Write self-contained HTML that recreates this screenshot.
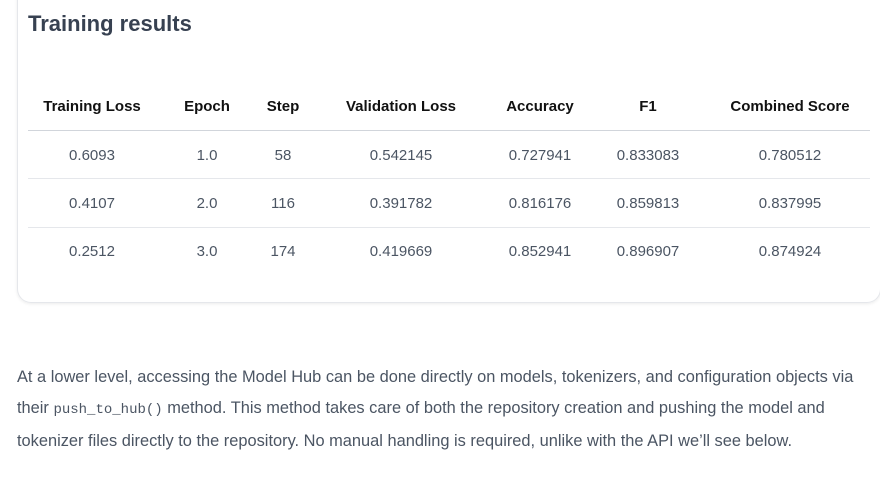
<!DOCTYPE html>
<html><head><meta charset="utf-8"><style>
body{margin:0;width:880px;height:479px;background:#fff;font-family:"Liberation Sans",sans-serif;position:relative;overflow:hidden}
.card{position:absolute;left:17px;top:-20px;width:862px;height:322px;border:1px solid #e5e7eb;border-top:none;border-radius:0 0 14px 14px;box-shadow:0 1px 3px rgba(0,0,0,0.08)}
h2{position:absolute;left:28px;top:11px;margin:0;font-size:22px;font-weight:600;color:#374151}
.t{position:absolute;transform:translateX(-50%);white-space:nowrap;font-size:15px}
.h{font-weight:bold;color:#111;top:98px}
.d{color:#4b5563}
.ln{position:absolute;left:28px;width:842px;height:1px;background:#e5e7eb}
p{position:absolute;left:17px;top:362px;margin:0;width:860px;font-size:16.4px;line-height:31px;color:#4b5563}
code{font-family:"Liberation Mono",monospace;font-size:14px;color:#4b5563}
</style></head><body>
<div class="card"></div>
<h2>Training results</h2>
<div class="t h" style="left:92px">Training Loss</div>
<div class="t h" style="left:207px">Epoch</div>
<div class="t h" style="left:283px">Step</div>
<div class="t h" style="left:401px">Validation Loss</div>
<div class="t h" style="left:540px">Accuracy</div>
<div class="t h" style="left:648px">F1</div>
<div class="t h" style="left:790px">Combined Score</div>
<div class="ln" style="top:130px;background:#d1d5db"></div>
<div class="ln" style="top:178px"></div>
<div class="ln" style="top:227px"></div>

<div class="t d" style="left:92px;top:147px">0.6093</div>
<div class="t d" style="left:207px;top:147px">1.0</div>
<div class="t d" style="left:283px;top:147px">58</div>
<div class="t d" style="left:401px;top:147px">0.542145</div>
<div class="t d" style="left:540px;top:147px">0.727941</div>
<div class="t d" style="left:648px;top:147px">0.833083</div>
<div class="t d" style="left:790px;top:147px">0.780512</div>

<div class="t d" style="left:92px;top:195px">0.4107</div>
<div class="t d" style="left:207px;top:195px">2.0</div>
<div class="t d" style="left:283px;top:195px">116</div>
<div class="t d" style="left:401px;top:195px">0.391782</div>
<div class="t d" style="left:540px;top:195px">0.816176</div>
<div class="t d" style="left:648px;top:195px">0.859813</div>
<div class="t d" style="left:790px;top:195px">0.837995</div>

<div class="t d" style="left:92px;top:243px">0.2512</div>
<div class="t d" style="left:207px;top:243px">3.0</div>
<div class="t d" style="left:283px;top:243px">174</div>
<div class="t d" style="left:401px;top:243px">0.419669</div>
<div class="t d" style="left:540px;top:243px">0.852941</div>
<div class="t d" style="left:648px;top:243px">0.896907</div>
<div class="t d" style="left:790px;top:243px">0.874924</div>

<p>At a lower level, accessing the Model Hub can be done directly on models, tokenizers, and configuration objects via<br>their <code>push_to_hub()</code> method. This method takes care of both the repository creation and pushing the model and<br>tokenizer files directly to the repository. No manual handling is required, unlike with the API we’ll see below.</p>
</body></html>
